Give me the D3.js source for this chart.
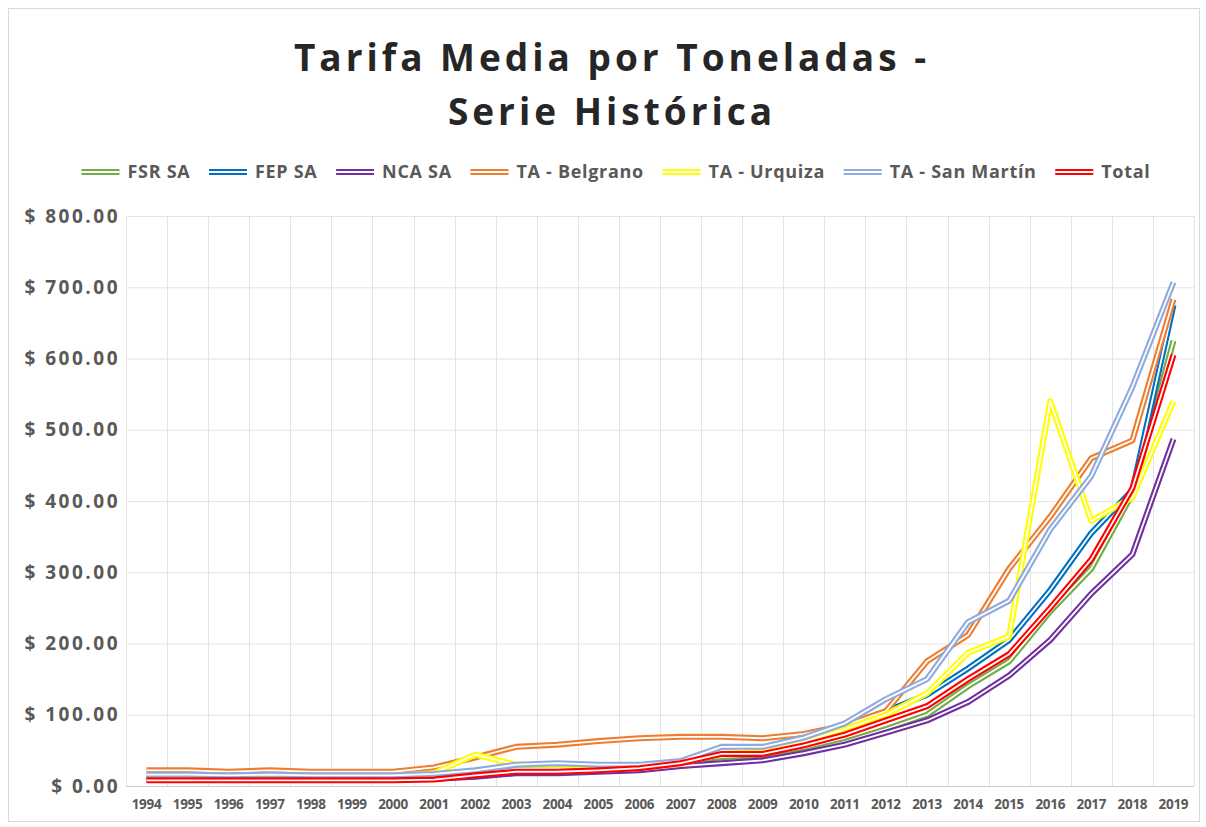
<!DOCTYPE html>
<html>
<head>
<meta charset="utf-8">
<script src="https://cdn.jsdelivr.net/npm/d3@7"></script>
<style>
  body { margin: 0; background: #fff; }
  text { font-family: "Open Sans", "Liberation Sans", Arial, sans-serif; }
</style>
</head>
<body>
<div id="chartEl"></div>
<script>
// data
const years = ['1994', '1995', '1996', '1997', '1998', '1999', '2000', '2001', '2002', '2003', '2004', '2005', '2006',
  '2007', '2008', '2009', '2010', '2011', '2012', '2013', '2014', '2015', '2016', '2017', '2018', '2019'];
const seriesNames = ['FSR SA', 'FEP SA', 'NCA SA', 'TA - Belgrano', 'TA - Urquiza', 'TA - San Martín', 'Total'];
const fsr = [10, 10, 10, 10, 10, 10, 10, 10, 14, 20, 22, 22, 24, 28, 35, 38, 48, 62, 80, 100, 140, 175, 245, 305, 410, 625];
const fep = [12, 12, 12, 12, 12, 12, 12, 13, 18, 24, 25, 26, 28, 32, 50, 52, 65, 82, 105, 128, 165, 205, 275, 355, 415, 675];
const nca = [10, 10, 10, 10, 10, 10, 10, 10, 13, 18, 18, 20, 22, 28, 32, 36, 46, 58, 75, 92, 118, 155, 205, 270, 325, 487];
const belgrano = [22, 22, 20, 22, 20, 20, 20, 26, 40, 55, 58, 63, 67, 69, 69, 67, 73, 85, 105, 175, 212, 305, 378, 460, 485, 683];
const urquiza = [15, 15, 14, 15, 14, 14, 14, 18, 44, 30, 30, 28, 28, 32, 45, 48, 62, 80, 100, 130, 187, 210, 540, 372, 405, 540];
const sanMartin = [16, 16, 15, 16, 15, 15, 15, 17, 22, 30, 32, 30, 30, 35, 55, 55, 68, 88, 122, 150, 230, 260, 360, 435, 560, 707];
const total = [8, 8, 8, 8, 8, 8, 8, 9, 15, 20, 20, 22, 25, 32, 45, 45, 57, 72, 92, 112, 150, 185, 250, 318, 418, 605];
const yTicks = [0, 100, 200, 300, 400, 500, 600, 700, 800];

const colors = ['#70AD47', '#0070C0', '#7030A0', '#ED7D31', '#FFFF00', '#8FAADC', '#FF0000'];
const allValues = [fsr, fep, nca, belgrano, urquiza, sanMartin, total];

const width = 1206;
const height = 827;
const margin = {top: 216, right: 12, bottom: 41, left: 126};

const svg = d3.select('#chartEl').append('svg')
  .attr('width', width)
  .attr('height', height);

svg.append('rect')
  .attr('x', 8.5).attr('y', 8.5)
  .attr('width', 1191).attr('height', 813)
  .attr('fill', '#fff')
  .attr('stroke', '#d9d9d9');

const x = d3.scaleBand()
  .domain(years)
  .range([margin.left, width - margin.right])
  .padding(0);

const y = d3.scaleLinear()
  .domain([0, 800])
  .range([height - margin.bottom, margin.top]);

// gridlines
svg.append('g')
  .selectAll('line')
  .data(yTicks.slice(1))
  .enter().append('line')
  .attr('x1', x.range()[0]).attr('x2', x.range()[1])
  .attr('y1', d => y(d) + 0.5).attr('y2', d => y(d) + 0.5)
  .attr('stroke', '#e4e4e4');

svg.append('g')
  .selectAll('line')
  .data(years.concat(['end']))
  .enter().append('line')
  .attr('x1', (d, i) => Math.round(x.range()[0] + i * x.bandwidth()) + 0.5)
  .attr('x2', (d, i) => Math.round(x.range()[0] + i * x.bandwidth()) + 0.5)
  .attr('y1', y(800)).attr('y2', y(0))
  .attr('stroke', '#e4e4e4');

svg.append('line')
  .attr('x1', x.range()[0]).attr('x2', x.range()[1])
  .attr('y1', y(0) + 0.5).attr('y2', y(0) + 0.5)
  .attr('stroke', '#c8c8c8');

// axes
const fmt = d => '$ ' + d3.format('.2f')(d);
const yAxis = d3.axisLeft(y).tickValues(yTicks).tickFormat(fmt).tickSize(0).tickPadding(6);
svg.append('g')
  .attr('transform', 'translate(' + margin.left + ',0)')
  .call(yAxis)
  .call(g => g.select('.domain').remove())
  .selectAll('text')
  .attr('fill', '#595959')
  .attr('font-size', '19px')
  .attr('font-weight', 'bold')
  .attr('letter-spacing', '2.5px')
  .style('font-family', '"Open Sans", "Liberation Sans", Arial, sans-serif');

const xAxis = d3.axisBottom(x).tickSize(0).tickPadding(13);
svg.append('g')
  .attr('transform', 'translate(0,' + y(0) + ')')
  .call(xAxis)
  .call(g => g.select('.domain').remove())
  .selectAll('text')
  .attr('fill', '#595959')
  .attr('font-size', '13.5px')
  .attr('font-weight', 'bold')
  .attr('letter-spacing', '-0.3px')
  .style('font-family', '"Open Sans", "Liberation Sans", Arial, sans-serif');

// lines (double compound style)
const line = d3.line()
  .x((d, i) => x(years[i]) + x.bandwidth() / 2)
  .y(d => y(d));

const lines = svg.append('g').attr('fill', 'none').attr('stroke-linejoin', 'round');
allValues.forEach((vals, k) => {
  lines.append('path')
    .attr('d', line(vals))
    .attr('stroke', colors[k])
    .attr('stroke-width', 6);
  lines.append('path')
    .attr('d', line(vals))
    .attr('stroke', '#fff')
    .attr('stroke-width', 1.8);
});

// title
const title = svg.append('text')
  .attr('text-anchor', 'middle')
  .attr('fill', '#262626')
  .attr('font-size', '37px')
  .attr('font-weight', 'bold')
  .attr('letter-spacing', '4px');
title.append('tspan').attr('x', 612).attr('y', 71).text('Tarifa Media por Toneladas -');
title.append('tspan').attr('x', 612).attr('y', 125).text('Serie Histórica');

// legend
const legend = svg.append('g');
let lx = 0;
const items = [];
seriesNames.forEach((name, k) => {
  const g = legend.append('g');
  g.append('line')
    .attr('x1', 0).attr('x2', 38).attr('y1', 0).attr('y2', 0)
    .attr('stroke', colors[k]).attr('stroke-width', 6);
  g.append('line')
    .attr('x1', 0).attr('x2', 38).attr('y1', 0).attr('y2', 0)
    .attr('stroke', '#fff').attr('stroke-width', 1.8);
  const t = g.append('text')
    .attr('x', 46).attr('y', 6)
    .attr('fill', '#595959')
    .attr('font-size', '18px')
    .attr('font-weight', 'bold')
    .attr('letter-spacing', '0.7px')
    .text(name);
  items.push({g: g, w: 46 + t.node().getComputedTextLength()});
});
const totalText = d3.sum(items, d => d.w);
const gap = Math.max(10, (1069 - totalText) / (items.length - 1));
lx = 616 - (totalText + gap * (items.length - 1)) / 2;
items.forEach(it => {
  it.g.attr('transform', 'translate(' + lx + ',172)');
  lx += it.w + gap;
});
</script>
</body>
</html>
